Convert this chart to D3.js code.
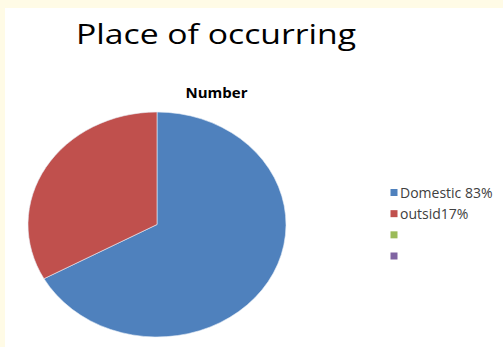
<!DOCTYPE html>
<html>
<head>
<meta charset="utf-8">
<script src="https://cdn.jsdelivr.net/npm/d3@7/dist/d3.min.js"></script>
<style>
  html, body { margin: 0; padding: 0; background: #ffffff; }
  svg { display: block; }
</style>
</head>
<body>
<svg id="chart" width="503" height="347"></svg>
<script>
// Chart data
const chartTitle = "Place of occurring";
const seriesName = "Number";
const categories = ["Domestic 83%", "outsid17%", "", ""];
const values = [67, 33, 0, 0];
const colors = ["#4f81bd", "#c0504d", "#9bbb59", "#8064a2"];

const svg = d3.select("#chart");
const W = 503, H = 347;
const font = "'Open Sans', 'Liberation Sans', sans-serif";

// Page frame: cream margin on the top and left
svg.append("rect").attr("x", 0).attr("y", 0).attr("width", W).attr("height", H).attr("fill", "#fffbe6");
svg.append("rect").attr("x", 5).attr("y", 8).attr("width", W - 5).attr("height", H - 8).attr("fill", "#ffffff");

// Titles
svg.append("text")
  .attr("x", 76).attr("y", 44)
  .attr("font-family", font)
  .attr("font-size", 28)
  .attr("textLength", 280)
  .attr("lengthAdjust", "spacingAndGlyphs")
  .attr("fill", "#000")
  .text(chartTitle);

svg.append("text")
  .attr("x", 216.5).attr("y", 98)
  .attr("text-anchor", "middle")
  .attr("font-family", font)
  .attr("font-weight", "bold")
  .attr("font-size", 15)
  .attr("fill", "#000")
  .text(seriesName);

// Pie (drawn as a horizontally stretched ellipse)
const cx = 157, cy = 224.5, ry = 112.5, rx = 129;
const pie = d3.pie().sort(null).value(d => d)(values);
const arc = d3.arc().innerRadius(0).outerRadius(ry);

const pieG = svg.append("g")
  .attr("transform", `translate(${cx},${cy}) scale(${rx / ry},1)`);

pieG.selectAll("path")
  .data(pie.filter(d => d.value > 0))
  .join("path")
  .attr("d", arc)
  .attr("fill", d => colors[d.index])
  .attr("stroke", "#e8eef6")
  .attr("stroke-width", 0.6)
  .attr("vector-effect", "non-scaling-stroke");

// Legend
const legendY = d3.scalePoint().domain(d3.range(categories.length)).range([192.5, 256]);
const rows = svg.append("g").selectAll("g")
  .data(categories)
  .join("g")
  .attr("transform", (d, i) => `translate(390.5,${legendY(i)})`);

rows.append("rect")
  .attr("x", 0).attr("y", -3.5)
  .attr("width", 7).attr("height", 7)
  .attr("fill", (d, i) => colors[i]);

rows.append("text")
  .attr("x", 9.5).attr("y", 5)
  .attr("font-family", font)
  .attr("font-size", 14)
  .attr("fill", "#404040")
  .text(d => d);
</script>
</body>
</html>
